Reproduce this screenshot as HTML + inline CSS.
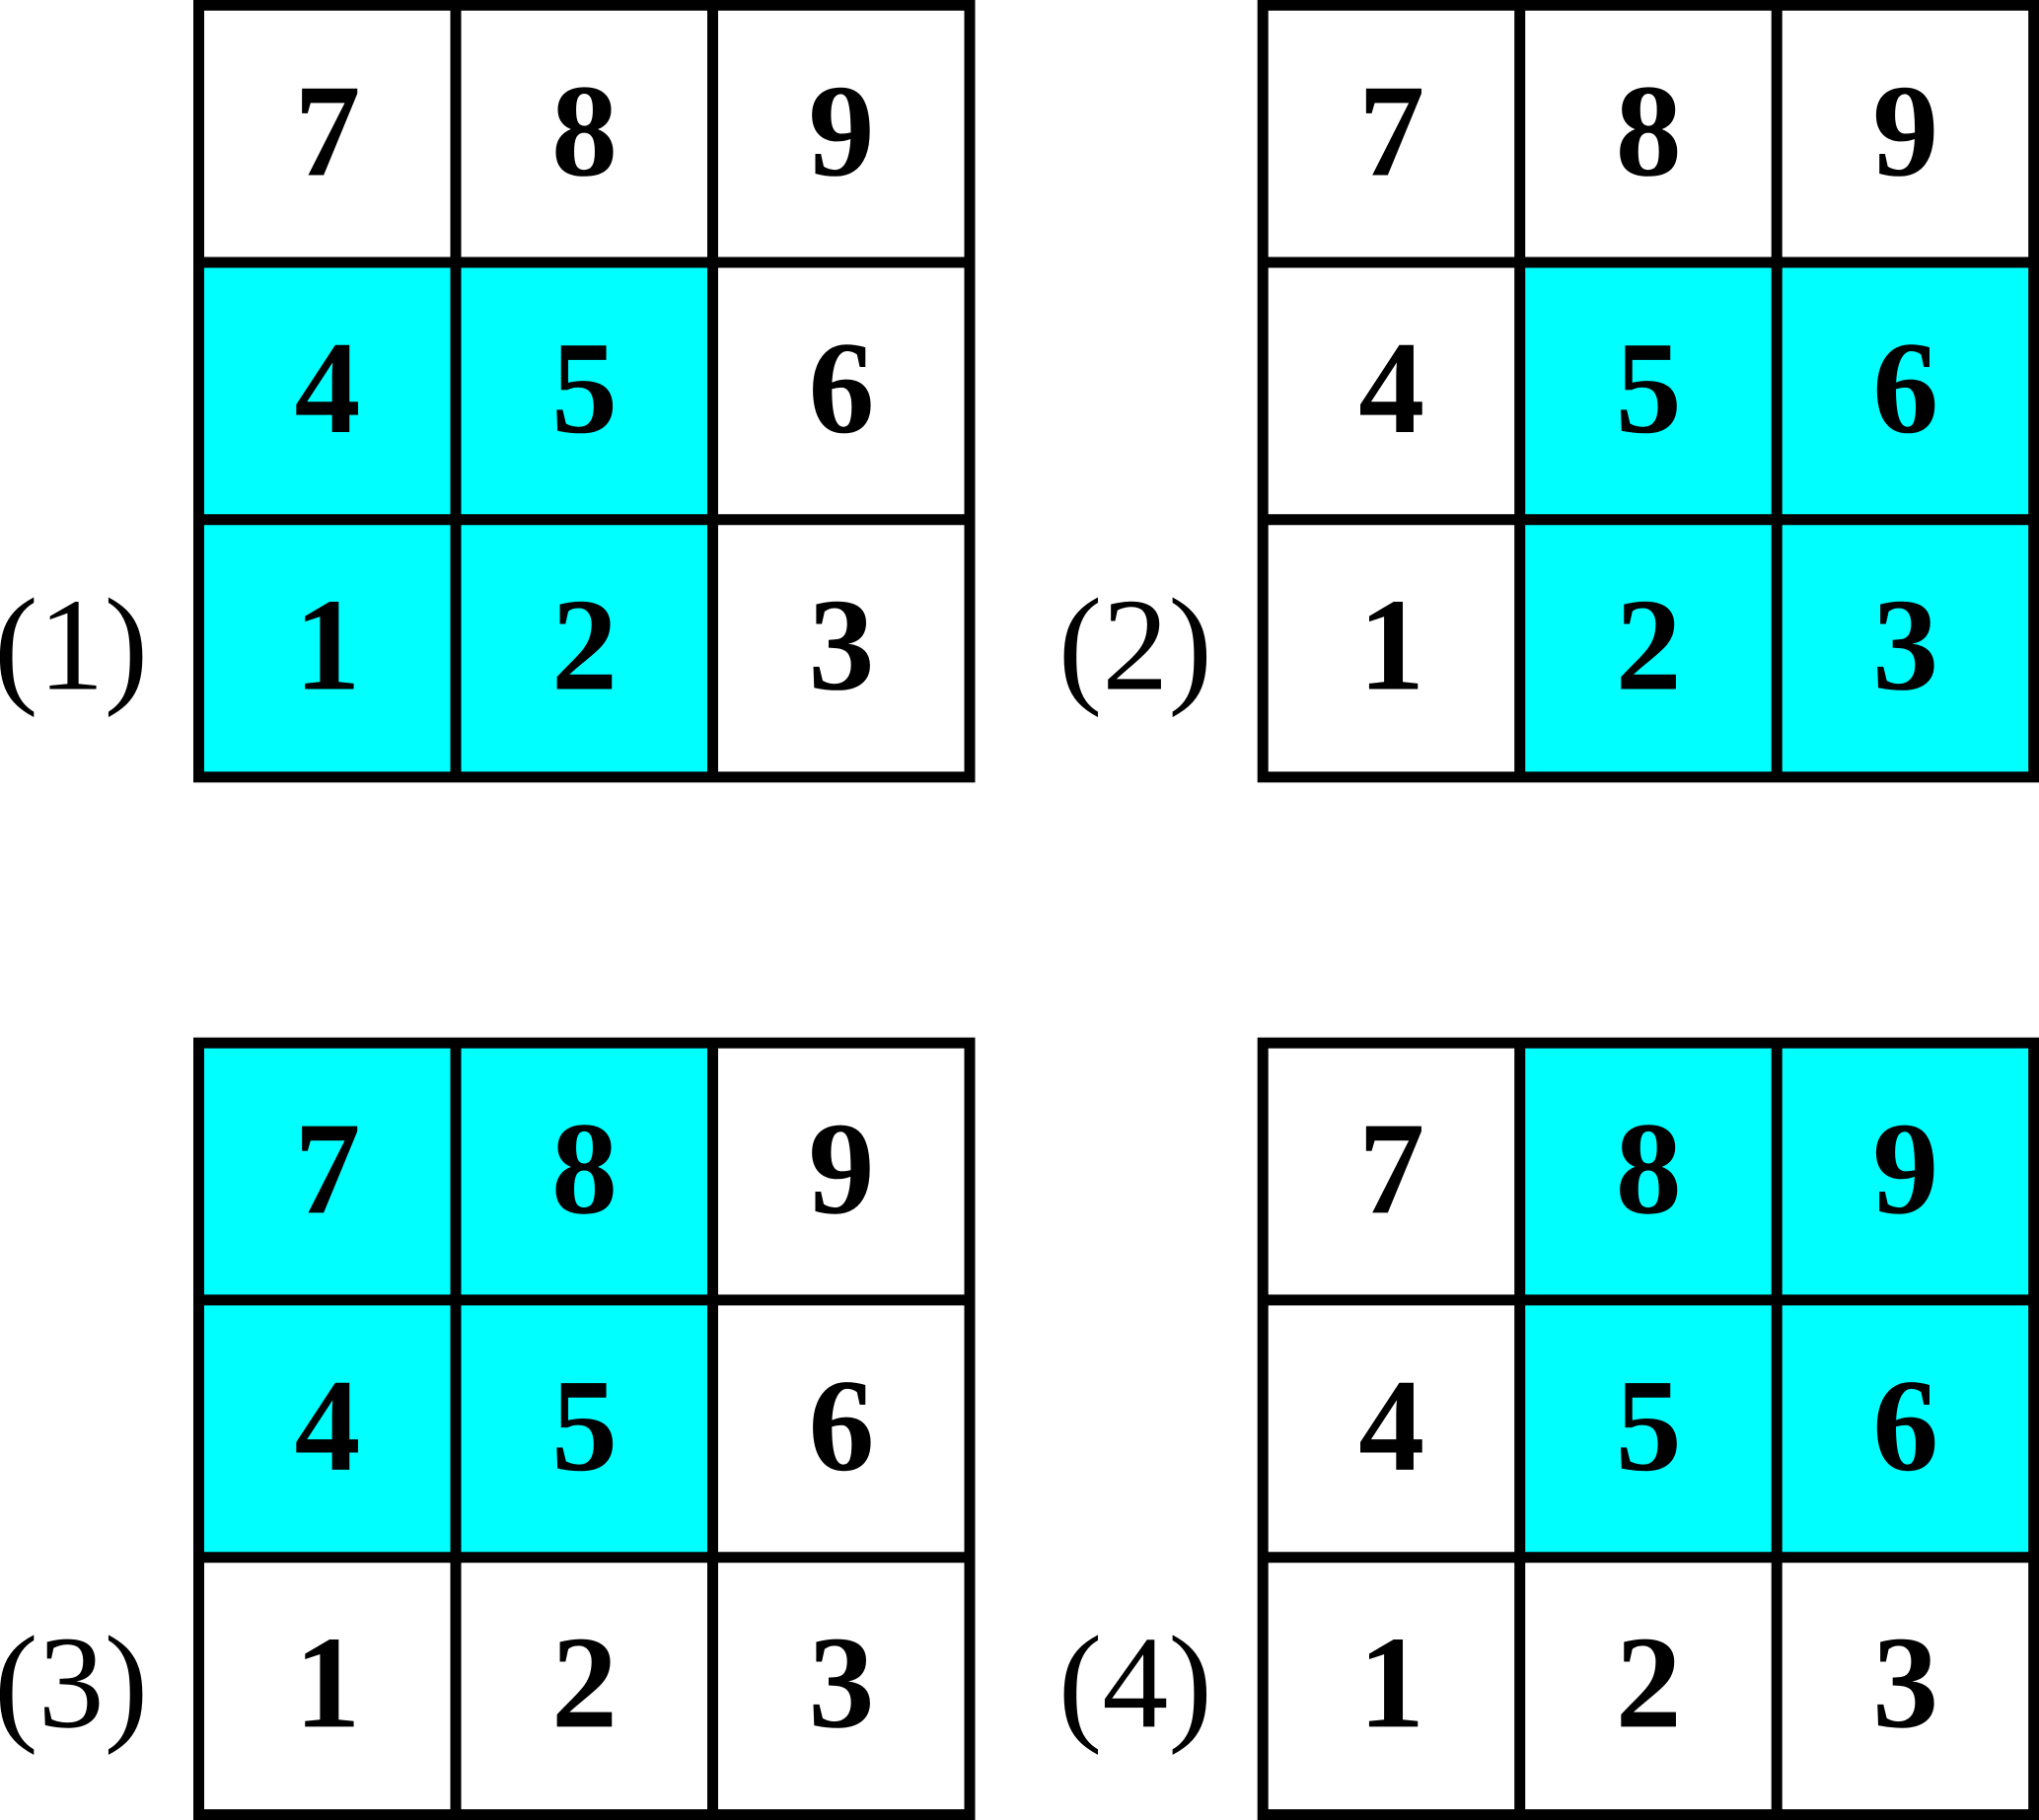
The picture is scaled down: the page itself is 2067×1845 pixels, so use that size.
<!DOCTYPE html>
<html>
<head>
<meta charset="utf-8">
<style>
html,body{margin:0;padding:0;background:#fff;width:2067px;height:1845px;overflow:hidden}
svg{display:block}
.d{font:bold 134px "Liberation Serif",serif;text-anchor:middle;fill:#000}
.l{font:normal 134px "Liberation Serif",serif;fill:#000}
.f{fill:#00ffff}
.g{fill:none;stroke:#000;stroke-width:11;stroke-linecap:square}
</style>
</head>
<body>
<svg width="2067" height="1845" viewBox="0 0 2067 1845" xmlns="http://www.w3.org/2000/svg">
<rect width="2067" height="1845" fill="#fff"/>

<g>
<rect class="f" x="201.5" y="266" width="521" height="521.7"/>
<path class="g" d="M201.5 5.3H983V787.7H201.5ZM462 5.3V787.7M722.5 5.3V787.7M201.5 266H983M201.5 526.8H983"/>
<text class="d" x="332" y="177.5">7</text><text class="d" x="592.5" y="177.5">8</text><text class="d" x="853" y="177.5">9</text>
<text class="d" x="332" y="438">4</text><text class="d" x="592.5" y="438">5</text><text class="d" x="853" y="438">6</text>
<text class="d" x="332" y="698.5">1</text><text class="d" x="592.5" y="698.5">2</text><text class="d" x="853" y="698.5">3</text>
<text class="l" x="-6" y="698.5">(1)</text>
</g>

<g transform="translate(1078.7 0)">
<rect class="f" x="462" y="266" width="521" height="521.7"/>
<path class="g" d="M201.5 5.3H983V787.7H201.5ZM462 5.3V787.7M722.5 5.3V787.7M201.5 266H983M201.5 526.8H983"/>
<text class="d" x="332" y="177.5">7</text><text class="d" x="592.5" y="177.5">8</text><text class="d" x="853" y="177.5">9</text>
<text class="d" x="332" y="438">4</text><text class="d" x="592.5" y="438">5</text><text class="d" x="853" y="438">6</text>
<text class="d" x="332" y="698.5">1</text><text class="d" x="592.5" y="698.5">2</text><text class="d" x="853" y="698.5">3</text>
<text class="l" x="-6" y="698.5">(2)</text>
</g>

<g transform="translate(0 1051.9)">
<rect class="f" x="201.5" y="5.3" width="521" height="521.5"/>
<path class="g" d="M201.5 5.3H983V787.7H201.5ZM462 5.3V787.7M722.5 5.3V787.7M201.5 266H983M201.5 526.8H983"/>
<text class="d" x="332" y="177.5">7</text><text class="d" x="592.5" y="177.5">8</text><text class="d" x="853" y="177.5">9</text>
<text class="d" x="332" y="438">4</text><text class="d" x="592.5" y="438">5</text><text class="d" x="853" y="438">6</text>
<text class="d" x="332" y="698.5">1</text><text class="d" x="592.5" y="698.5">2</text><text class="d" x="853" y="698.5">3</text>
<text class="l" x="-6" y="698.5">(3)</text>
</g>

<g transform="translate(1078.7 1051.9)">
<rect class="f" x="462" y="5.3" width="521" height="521.5"/>
<path class="g" d="M201.5 5.3H983V787.7H201.5ZM462 5.3V787.7M722.5 5.3V787.7M201.5 266H983M201.5 526.8H983"/>
<text class="d" x="332" y="177.5">7</text><text class="d" x="592.5" y="177.5">8</text><text class="d" x="853" y="177.5">9</text>
<text class="d" x="332" y="438">4</text><text class="d" x="592.5" y="438">5</text><text class="d" x="853" y="438">6</text>
<text class="d" x="332" y="698.5">1</text><text class="d" x="592.5" y="698.5">2</text><text class="d" x="853" y="698.5">3</text>
<text class="l" x="-6" y="698.5">(4)</text>
</g>
</svg>
</body>
</html>
